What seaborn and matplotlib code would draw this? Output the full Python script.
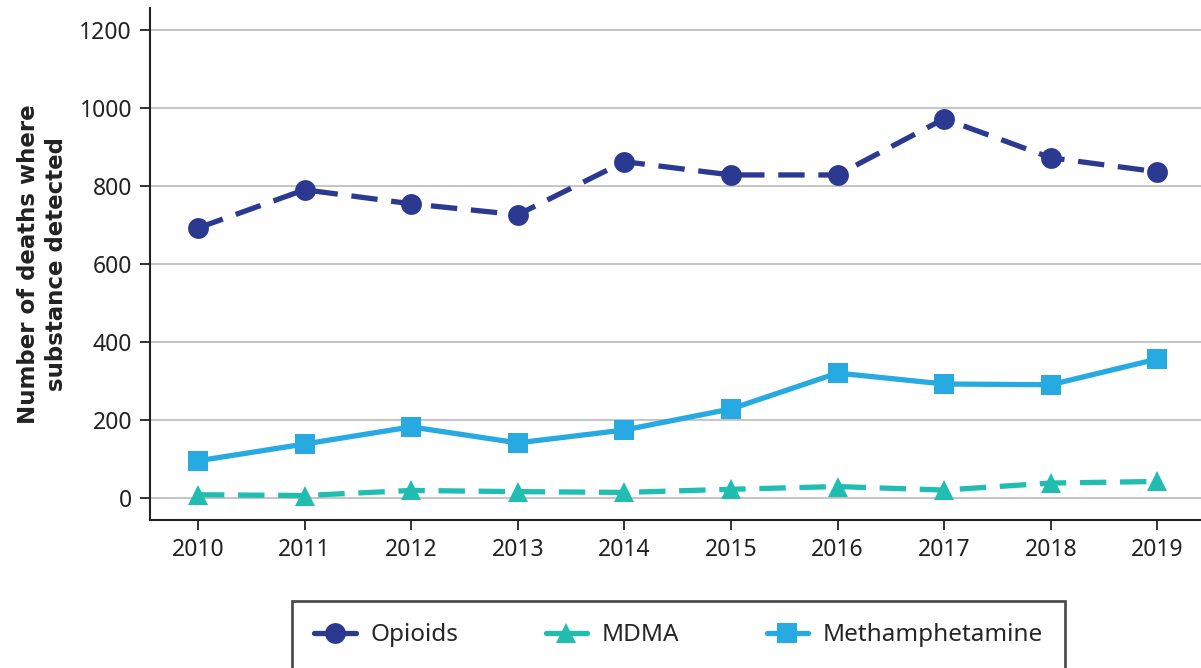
import matplotlib
matplotlib.use("Agg")
import matplotlib.pyplot as plt
import seaborn as sns
import pandas as pd
from matplotlib.lines import Line2D

years = [2010, 2011, 2012, 2013, 2014, 2015, 2016, 2017, 2018, 2019]
opioids = [692, 790, 754, 726, 862, 828, 828, 972, 872, 836]
mdma = [8, 6, 19, 16, 14, 22, 29, 20, 38, 42]
meth = [95, 138, 182, 141, 174, 228, 320, 292, 290, 356]
series_names = ["Opioids", "MDMA", "Methamphetamine"]
colors = ["#2B3990", "#20BDB0", "#27AAE1"]
yticks = [0, 200, 400, 600, 800, 1000, 1200]

df = pd.DataFrame({
    "Year": years * 3,
    "Deaths": opioids + mdma + meth,
    "Substance": [series_names[0]] * 10 + [series_names[1]] * 10 + [series_names[2]] * 10,
})

sns.set_style("white")
plt.rcParams["font.family"] = ["Noto Sans", "DejaVu Sans"]

fig = plt.figure(figsize=(12.01, 6.68), dpi=100)
ax = fig.add_axes([0.1249, 0.222, 0.8751, 0.766])

dash = (5, 2.6)
sns.lineplot(
    data=df, x="Year", y="Deaths", hue="Substance", style="Substance",
    palette=dict(zip(series_names, colors)),
    markers={"Opioids": "o", "MDMA": "^", "Methamphetamine": "s"},
    dashes={"Opioids": dash, "MDMA": dash, "Methamphetamine": ""},
    linewidth=3.8, markersize=15, markeredgewidth=0, ax=ax, legend=False,
)

ax.set_xlim(2009.55, 2019.41)
ax.set_ylim(-56, 1256)
ax.set_xticks(years)
ax.set_yticks(yticks)
ax.set_xticklabels([str(y) for y in years], fontsize=16.5, color="#222222")
ax.set_yticklabels([str(v) for v in yticks], fontsize=16.5, color="#222222")
ax.yaxis.grid(True, color="#BBBBBB", linewidth=1.2)
ax.xaxis.grid(False)
ax.set_axisbelow(True)
for s in ["top", "right"]:
    ax.spines[s].set_visible(False)
for s in ["left", "bottom"]:
    ax.spines[s].set_color("#222222")
    ax.spines[s].set_linewidth(1.5)
ax.tick_params(axis="both", which="both", direction="out", length=7, width=1.3,
               color="#222222", left=True, bottom=True, pad=6)
ax.set_xlabel("")
ax.set_ylabel("Number of deaths where\nsubstance detected", fontsize=16.5,
              fontweight="bold", family=["DejaVu Sans"], color="#222222",
              labelpad=8, linespacing=1.3)

handles = [
    Line2D([], [], color=colors[0], marker="o", markersize=15, linewidth=3.8, markeredgewidth=0),
    Line2D([], [], color=colors[1], marker="^", markersize=15, linewidth=3.8, markeredgewidth=0),
    Line2D([], [], color=colors[2], marker="s", markersize=15, linewidth=3.8, markeredgewidth=0),
]
leg = fig.legend(handles, series_names, loc="upper center", bbox_to_anchor=(0.565, 0.118),
                 ncol=3, frameon=True, fontsize=17.5, handlelength=1.7, columnspacing=3.6,
                 borderpad=0.9, handletextpad=0.6, fancybox=False)
leg.get_frame().set_edgecolor("#222222")
leg.get_frame().set_linewidth(2)

fig.savefig("out.png", dpi=100)
